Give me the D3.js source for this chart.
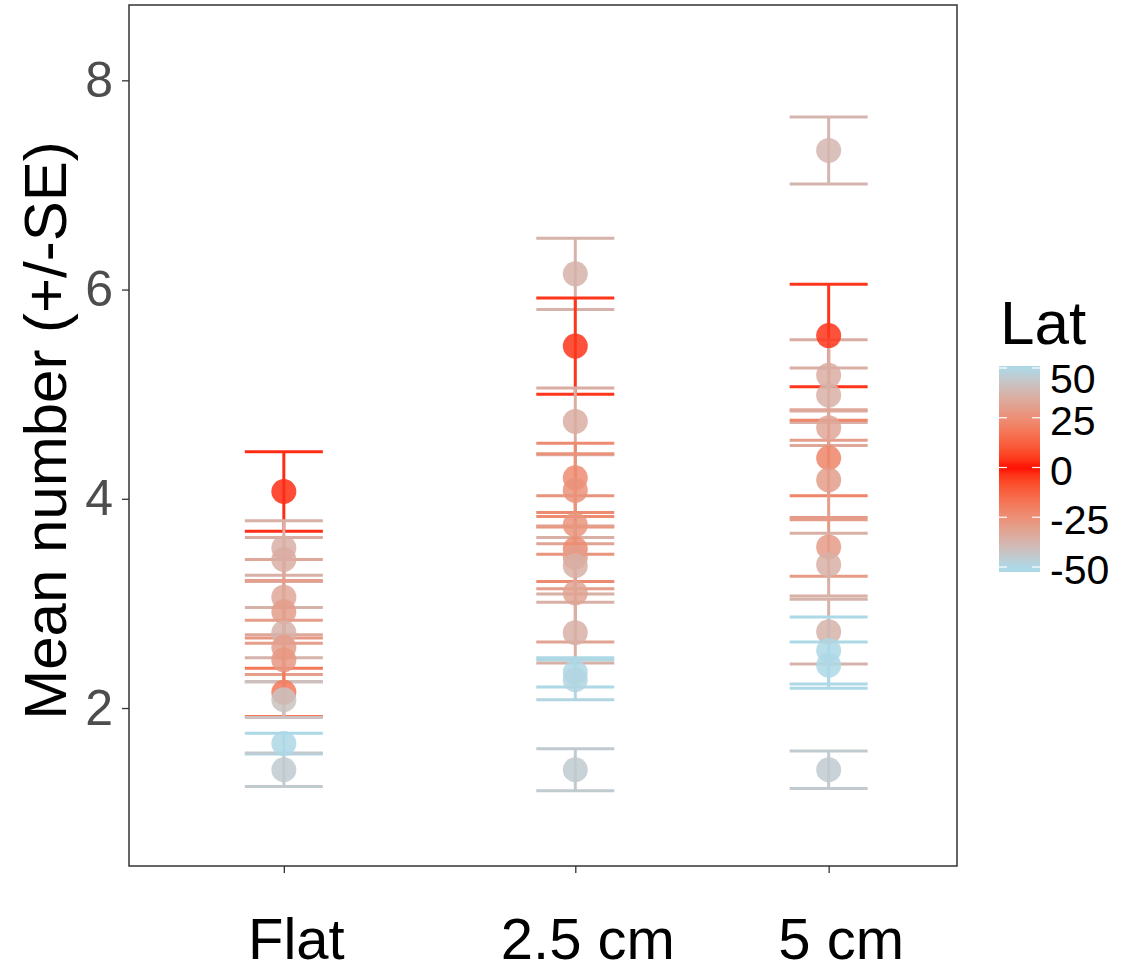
<!DOCTYPE html>
<html>
<head>
<meta charset="utf-8">
<script src="https://cdn.jsdelivr.net/npm/d3@7"></script>
<style>
  html, body { margin: 0; padding: 0; background: #fff; }
  svg { display: block; font-family: Arial, "Liberation Sans", sans-serif; }
</style>
</head>
<body>
<svg id="chart" width="1148" height="974"></svg>
<script>
// ---------------- data ----------------
const categories = ["Flat", "2.5 cm", "5 cm"];

const flatMean = [4.07, 3.53, 3.42, 3.06, 2.92, 2.72, 2.58, 2.46, 2.15, 2.08, 1.66, 1.41];
const flatSE   = [0.38, 0.26, 0.21, 0.36, 0.30, 0.24, 0.26, 0.21, 0.23, 0.17, 0.10, 0.16];
const flatLat  = [3, 36, -35, 33, 30, 37, -30, 28, 18, 42, 50, 45];

const cm25Mean = [6.15, 5.46, 4.74, 4.20, 4.08, 3.75, 3.52, 3.44, 3.36, 3.10, 2.72, 2.34, 2.27, 1.41];
const cm25SE   = [0.34, 0.46, 0.32, 0.33, 0.35, 0.28, 0.31, 0.30, 0.27, 0.47, 0.29, 0.14, 0.19, 0.20];
const cm25Lat  = [37, 4, 35, 24, -26, 27, -24, 30, 36, 32, 36, 50, -49, 45];

const cm5Mean  = [7.33, 5.56, 5.18, 4.99, 4.68, 4.39, 4.18, 3.54, 3.37, 2.73, 2.55, 2.41, 1.41];
const cm5SE    = [0.32, 0.49, 0.34, 0.26, 0.17, 0.36, 0.38, 0.28, 0.30, 0.31, 0.32, 0.22, 0.18];
const cm5Lat   = [38, 4, 35, 36, 33, 22, 30, 29, 36, 37, 50, -50, 45];

const yTicks = [2, 4, 6, 8];
const latTicks = [50, 25, 0, -25, -50];
const yTitle = "Mean number (+/-SE)";
const legendTitle = "Lat";

// -------------- build rows --------------
const groups = [
  [categories[0], flatMean, flatSE, flatLat],
  [categories[1], cm25Mean, cm25SE, cm25Lat],
  [categories[2], cm5Mean, cm5SE, cm5Lat]
];
const rows = [];
groups.forEach(([cat, m, s, l]) => m.forEach((v, i) => rows.push({cat, mean: v, se: s[i], lat: l[i]})));

// -------------- layout --------------
const svg = d3.select("#chart");
const panel = {left: 129, top: 5, right: 957, bottom: 866};
const pw = panel.right - panel.left;

const x = d3.scaleOrdinal()
  .domain(categories)
  .range([0.187, 0.539, 0.845].map(f => panel.left + f * pw));

const y = d3.scaleLinear().domain([0.49, 8.72]).range([panel.bottom, panel.top]);

const color = d3.scaleLinear()
  .domain([-50, 0, 50])
  .range(["lightblue", "red", "lightblue"])
  .interpolate(d3.interpolateLab)
  .clamp(true);

// panel background
svg.append("rect")
  .attr("x", panel.left).attr("y", panel.top)
  .attr("width", pw).attr("height", panel.bottom - panel.top)
  .attr("fill", "#fff");

// error bars
const capHalf = 39;
const eb = svg.append("g").attr("class", "errorbars");
rows.forEach(d => {
  const c = color(d.lat);
  const cx = x(d.cat);
  const g = eb.append("g").attr("stroke", c).attr("stroke-width", 3);
  g.append("line").attr("x1", cx).attr("x2", cx).attr("y1", y(d.mean + d.se)).attr("y2", y(d.mean - d.se));
  g.append("line").attr("x1", cx - capHalf).attr("x2", cx + capHalf).attr("y1", y(d.mean + d.se)).attr("y2", y(d.mean + d.se));
  g.append("line").attr("x1", cx - capHalf).attr("x2", cx + capHalf).attr("y1", y(d.mean - d.se)).attr("y2", y(d.mean - d.se));
});

// points
svg.append("g").attr("class", "points")
  .selectAll("circle").data(rows).join("circle")
  .attr("cx", d => x(d.cat))
  .attr("cy", d => y(d.mean))
  .attr("r", 12.5)
  .attr("fill", d => color(d.lat))
  .attr("fill-opacity", 0.85);

// panel border
svg.append("rect")
  .attr("x", panel.left).attr("y", panel.top)
  .attr("width", pw).attr("height", panel.bottom - panel.top)
  .attr("fill", "none").attr("stroke", "#333").attr("stroke-width", 1.5);

// y axis
const yAxis = svg.append("g")
  .attr("transform", `translate(${panel.left},0)`)
  .call(d3.axisLeft(y).tickValues(yTicks).tickSize(7).tickPadding(9).tickFormat(d3.format("d")));
yAxis.select(".domain").remove();
yAxis.selectAll(".tick line").attr("stroke", "#333").attr("stroke-width", 1.3);
yAxis.selectAll(".tick text").attr("fill", "#4d4d4d").attr("font-size", 50)
  .attr("font-family", "Arial, 'Liberation Sans', sans-serif");

// x axis
const xAxis = svg.append("g")
  .attr("transform", `translate(0,${panel.bottom})`)
  .call(d3.axisBottom(x).tickSize(7).tickPadding(45));
xAxis.select(".domain").remove();
xAxis.selectAll(".tick line").attr("stroke", "#333").attr("stroke-width", 1.3);
xAxis.selectAll(".tick text").attr("fill", "#000").attr("font-size", 58)
  .attr("dx", 12)
  .attr("font-family", "Arial, 'Liberation Sans', sans-serif");

// y title
svg.append("text")
  .attr("transform", `translate(66,${(panel.top + panel.bottom) / 2 - 5}) rotate(-90)`)
  .attr("text-anchor", "middle")
  .attr("font-size", 60)
  .attr("fill", "#000")
  .text(yTitle);

// legend
const lg = {x: 999, w: 41, top: 366, bottom: 572};
const latY = d3.scaleLinear().domain([51, -52.5]).range([lg.top, lg.bottom]);
const defs = svg.append("defs");
const grad = defs.append("linearGradient").attr("id", "latgrad")
  .attr("x1", 0).attr("y1", 0).attr("x2", 0).attr("y2", 1);
d3.range(0, 1.0001, 0.02).forEach(t => {
  const v = latY.invert(lg.top + t * (lg.bottom - lg.top));
  grad.append("stop").attr("offset", t).attr("stop-color", color(v));
});
svg.append("rect").attr("x", lg.x).attr("y", lg.top).attr("width", lg.w)
  .attr("height", lg.bottom - lg.top).attr("fill", "url(#latgrad)");
const lt = svg.append("g");
latTicks.forEach(v => {
  lt.append("line").attr("x1", lg.x).attr("x2", lg.x + 8).attr("y1", latY(v)).attr("y2", latY(v))
    .attr("stroke", "#fff").attr("stroke-width", 1.2);
  lt.append("line").attr("x1", lg.x + lg.w - 8).attr("x2", lg.x + lg.w).attr("y1", latY(v)).attr("y2", latY(v))
    .attr("stroke", "#fff").attr("stroke-width", 1.2);
  lt.append("text").attr("x", lg.x + lg.w + 10).attr("y", latY(v) + (v === 50 ? 11 : 3))
    .attr("dominant-baseline", "central").attr("font-size", 41).attr("fill", "#000").text(v);
});
svg.append("text").attr("x", 1000).attr("y", 344).attr("font-size", 62).attr("fill", "#000").text(legendTitle);
</script>
</body>
</html>
